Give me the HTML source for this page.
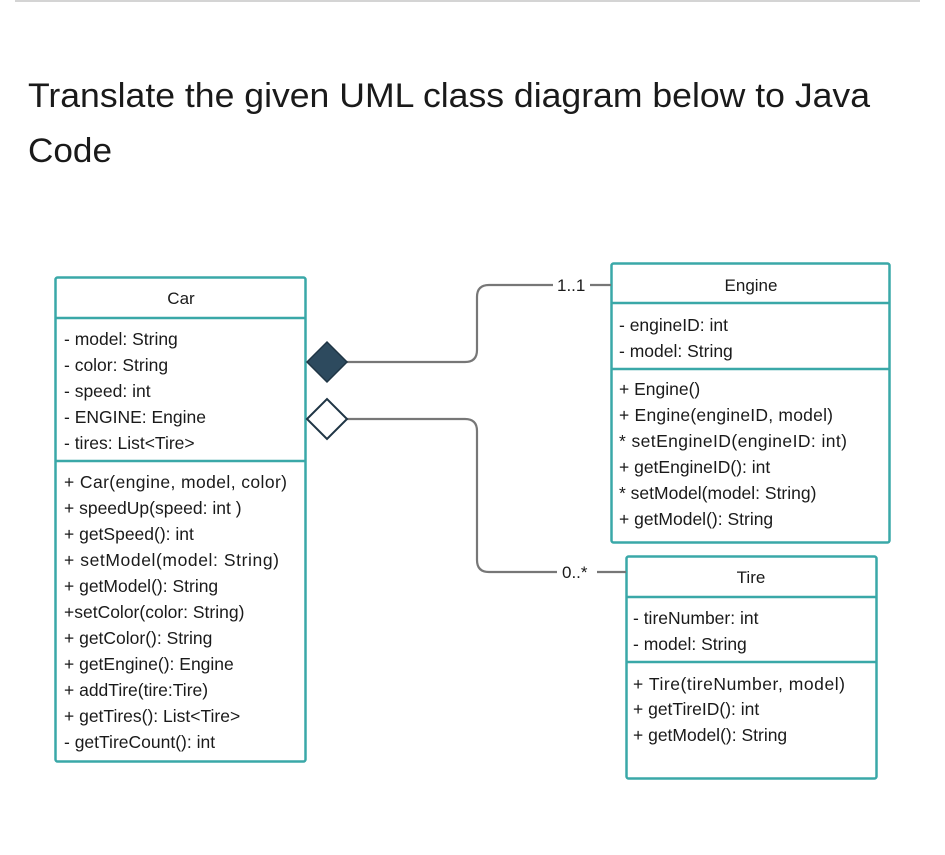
<!DOCTYPE html>
<html><head><meta charset="utf-8"><style>
html,body{margin:0;padding:0;background:#fff;}
svg{display:block;}
text{font-family:"Liberation Sans",sans-serif;fill:#1a1a1a;}
.m{font-size:17.5px;}
.t{font-size:17px;}
</style></head><body>
<svg width="945" height="855" viewBox="0 0 945 855" xmlns="http://www.w3.org/2000/svg">
<rect x="15" y="0" width="905" height="2" fill="#d4d4d4"/>
<text x="28" y="107" font-size="34" textLength="842" lengthAdjust="spacingAndGlyphs">Translate the given UML class diagram below to Java</text>
<text x="28" y="162" font-size="34" textLength="84" lengthAdjust="spacingAndGlyphs">Code</text>

<g fill="none" stroke="#3aa8a8" stroke-width="2.5">
<rect x="55.5" y="277.5" width="250" height="484" rx="2"/>
<line x1="55" y1="318" x2="306" y2="318"/>
<line x1="55" y1="461" x2="306" y2="461"/>
<rect x="611.5" y="263.5" width="278" height="279" rx="2"/>
<line x1="611" y1="303" x2="890" y2="303"/>
<line x1="611" y1="369" x2="890" y2="369"/>
<rect x="626.5" y="556.5" width="250" height="222" rx="2"/>
<line x1="626" y1="597" x2="877" y2="597"/>
<line x1="626" y1="662" x2="877" y2="662"/>
</g>

<g fill="none" stroke="#777" stroke-width="2.2">
<path d="M347 362 H465 Q477 362 477 350 V297 Q477 285 489 285 H553"/>
<line x1="590" y1="285" x2="611" y2="285"/>
<path d="M347 419 H465 Q477 419 477 431 V560 Q477 572 489 572 H557"/>
<line x1="597" y1="572" x2="626" y2="572"/>
</g>
<polygon points="307,362 327,342 347,362 327,382" fill="#2d4a5e" stroke="#1f3545" stroke-width="1.5"/>
<polygon points="307,419 327,399 347,419 327,439" fill="#fff" stroke="#1f3545" stroke-width="2"/>
<text x="557" y="291" class="t">1..1</text>
<text x="562" y="578" class="t">0..*</text>

<text x="181" y="304" class="t" text-anchor="middle">Car</text>
<text x="64" y="345" class="m">- model: String</text>
<text x="64" y="371" class="m">- color: String</text>
<text x="64" y="397" class="m">-  speed: int</text>
<text x="64" y="423" class="m">- ENGINE: Engine</text>
<text x="64" y="449" class="m">- tires: List&lt;Tire&gt;</text>
<text x="64" y="488" class="m" textLength="223">+ Car(engine, model, color)</text>
<text x="64" y="514" class="m">+ speedUp(speed: int )</text>
<text x="64" y="540" class="m">+ getSpeed(): int</text>
<text x="64" y="566" class="m" textLength="215">+ setModel(model: String)</text>
<text x="64" y="592" class="m">+ getModel(): String</text>
<text x="64" y="618" class="m">+setColor(color: String)</text>
<text x="64" y="644" class="m">+ getColor(): String</text>
<text x="64" y="670" class="m">+ getEngine(): Engine</text>
<text x="64" y="696" class="m">+ addTire(tire:Tire)</text>
<text x="64" y="722" class="m">+ getTires(): List&lt;Tire&gt;</text>
<text x="64" y="748" class="m">- getTireCount(): int</text>

<text x="751" y="291" class="t" text-anchor="middle">Engine</text>
<text x="619" y="331" class="m">- engineID: int</text>
<text x="619" y="357" class="m">- model: String</text>
<text x="619" y="395" class="m">+ Engine()</text>
<text x="619" y="421" class="m" textLength="214">+ Engine(engineID, model)</text>
<text x="619" y="447" class="m" textLength="228">* setEngineID(engineID: int)</text>
<text x="619" y="473" class="m">+ getEngineID(): int</text>
<text x="619" y="499" class="m">* setModel(model: String)</text>
<text x="619" y="525" class="m">+ getModel(): String</text>

<text x="751" y="583" class="t" text-anchor="middle">Tire</text>
<text x="633" y="624" class="m">- tireNumber: int</text>
<text x="633" y="650" class="m">- model: String</text>
<text x="633" y="690" class="m" textLength="212">+ Tire(tireNumber, model)</text>
<text x="633" y="715" class="m">+ getTireID(): int</text>
<text x="633" y="741" class="m">+ getModel(): String</text>
</svg>
</body></html>
